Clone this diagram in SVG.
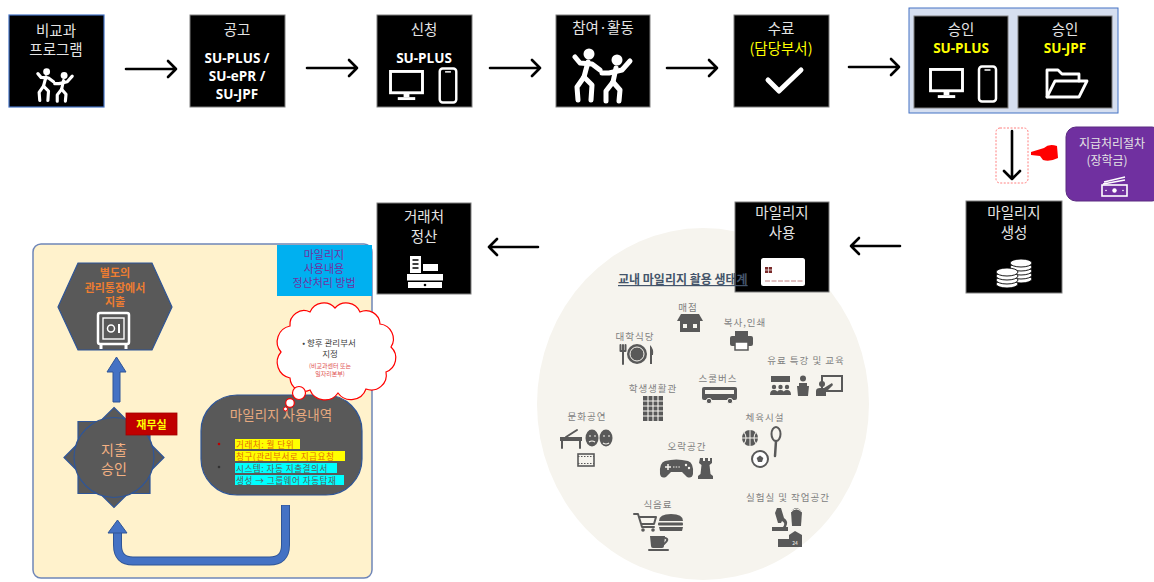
<svg xmlns="http://www.w3.org/2000/svg" width="1154" height="582" viewBox="0 0 1154 582">
<style>
text{font-family:"Noto Sans CJK KR","Liberation Sans",sans-serif;}
.box{fill:#000;stroke:#7f7f7f;stroke-width:1}
.kt{fill:#e4e4e4;font-size:14.5px;text-anchor:middle}
.en{fill:#fff;font-family:"Open Sans","Liberation Sans",sans-serif;font-weight:700;font-size:13.5px;text-anchor:middle}
.yl{fill:#ffff00}
.wl{fill:none;stroke:#fff;stroke-width:2.8;stroke-linejoin:round;stroke-linecap:round}
.conn{fill:none;stroke:#000;stroke-width:2.6;stroke-linecap:round;stroke-linejoin:round}
.ico{fill:#595959}
.ln{fill:none;stroke:#595959;stroke-width:2;stroke-linecap:round;stroke-linejoin:round}
.bg{fill:#f6f4ee}
.lab{fill:#808080;font-size:9.5px;text-anchor:middle;letter-spacing:1px}
.blue{fill:#4472c4;stroke:#2f5597;stroke-width:1}
.dk{fill:#595959;stroke:#2f5597;stroke-width:1.2}
.hl{font-size:8.6px;letter-spacing:0.5px}
</style>
<defs>
<symbol id="dancers" viewBox="0 0 64 56">
<g fill="#fff"><circle cx="17" cy="6" r="5.5"/><circle cx="45" cy="12" r="5.5"/></g>
<g fill="none" stroke="#fff" stroke-width="5" stroke-linecap="round" stroke-linejoin="round">
<path d="M16,14 L12,29"/><path d="M3,9 L8,15 L20,16 L28,22"/>
<path d="M12,29 L5,39 L6,52"/><path d="M12,29 L20,37 L19,52"/>
<path d="M44,20 L41,34"/><path d="M30,25 L37,25 L50,22 L58,13"/>
<path d="M41,34 L34,43 L34,53"/><path d="M41,34 L48,42 L47,53"/>
</g>
</symbol>
<symbol id="mon" viewBox="0 0 36 32">
<rect x="1.5" y="1.5" width="33" height="22" fill="none" stroke="#fff" stroke-width="3"/>
<rect x="15" y="23" width="6" height="5" fill="#fff"/><rect x="9" y="28" width="18" height="3" fill="#fff"/>
</symbol>
<symbol id="phone" viewBox="0 0 20 38">
<rect x="1.5" y="1.5" width="17" height="35" rx="3" fill="none" stroke="#fff" stroke-width="2.5"/>
<line x1="7" y1="5" x2="13" y2="5" stroke="#fff" stroke-width="1.5"/>
</symbol>
</defs>
<rect width="1154" height="582" fill="#fff"/>

<!-- top row: process steps -->
<g id="n-program">
<rect x="9" y="15" width="95" height="92" fill="#000" stroke="#4472c4" stroke-width="1.2"/>
<text class="kt" x="56" y="36">비교과</text><text class="kt" x="56" y="55">프로그램</text>
<use href="#dancers" x="36" y="68" width="40" height="35"/>
</g>
<g id="n-notice">
<rect class="box" x="190" y="15" width="95" height="92"/>
<text class="kt" x="237" y="35">공고</text>
<text class="en" x="237" y="63">SU-PLUS /</text><text class="en" x="237" y="81">SU-ePR /</text><text class="en" x="237" y="99">SU-JPF</text>
</g>
<g id="n-apply">
<rect class="box" x="377" y="15" width="95" height="92"/>
<text class="kt" x="424" y="35">신청</text>
<text class="en" x="424" y="63">SU-PLUS</text>
<use href="#mon" x="389" y="70" width="35" height="31"/>
<use href="#phone" x="438" y="67" width="20" height="37"/>
</g>
<g id="n-activity">
<rect class="box" x="556" y="15" width="94" height="92"/>
<text class="kt" x="603" y="33">참여·활동</text>
<use href="#dancers" x="572" y="48" width="64" height="56"/>
</g>
<g id="n-complete">
<rect class="box" x="734" y="15" width="95" height="92"/>
<text class="kt" x="781" y="34">수료</text>
<text class="kt yl" x="781" y="54" font-size="13.5">(담당부서)</text>
<path d="M768,80 L779,91 L801,70" fill="none" stroke="#fff" stroke-width="5" stroke-linecap="round" stroke-linejoin="round"/>
</g>
<g id="n-approve">
<rect x="909" y="8" width="209" height="105" fill="#d6dff0" stroke="#4472c4" stroke-width="1"/>
<rect class="box" x="914" y="16" width="94" height="92"/>
<text class="kt" x="961" y="35">승인</text>
<text class="en yl" x="961" y="53">SU-PLUS</text>
<use href="#mon" x="929" y="68" width="35" height="31"/>
<use href="#phone" x="977" y="65" width="21" height="38"/>
<rect class="box" x="1018" y="16" width="94" height="92"/>
<text class="kt" x="1065" y="35">승인</text>
<text class="en yl" x="1065" y="53">SU-JPF</text>
<path class="wl" d="M1047,97 L1047,70 L1058,70 L1062,74 L1079,74 L1079,81"/>
<path class="wl" d="M1047,97 L1055,81 L1087,81 L1079,97 Z"/>
</g>

<!-- payment procedure note -->
<g id="n-payment">
<rect x="996" y="128" width="32" height="55" rx="4" fill="none" stroke="#ff8080" stroke-width="1" stroke-dasharray="2 1.5"/>
<path d="M1031,152 L1044,148 Q1049,143 1057,146 L1058,158 Q1050,162 1043,160 L1040,156 L1031,155 Z" fill="#ff0000"/>
<rect x="1066" y="127" width="96" height="74" rx="10" fill="#7030a0" stroke="#5a2a80" stroke-width="1"/>
<text x="1112" y="148" fill="#e4e4e4" font-size="12" text-anchor="middle">지급처리절차</text>
<text x="1107" y="165" fill="#e4e4e4" font-size="12" text-anchor="middle">(장학금)</text>
<path d="M1104,182 L1125,177 M1103,184 L1125,180" stroke="#fff" stroke-width="1.3" fill="none"/>
<rect x="1102" y="185" width="25" height="11" fill="none" stroke="#fff" stroke-width="1.6"/>
<circle cx="1114.5" cy="190.5" r="2.2" fill="#fff"/>
<circle cx="1106" cy="190.5" r="0.8" fill="#fff"/><circle cx="1123" cy="190.5" r="0.8" fill="#fff"/>
</g>

<!-- ecosystem backdrop -->
<g id="n-ecosystem">
<ellipse class="bg" cx="703" cy="404" rx="166" ry="176"/>
<!-- store -->
<text class="lab" x="688" y="311">매점</text>
<path class="ico" d="M677,321 L681,314 L699,314 L703,321 Z"/>
<rect class="ico" x="680" y="321" width="20" height="11"/>
<rect x="683" y="324" width="4" height="4" fill="#f6f4ee"/><rect x="693" y="324" width="4" height="4" fill="#f6f4ee"/>
<!-- printing -->
<text class="lab" x="745" y="326">복사,인쇄</text>
<rect class="ico" x="735" y="331" width="13" height="5"/>
<rect class="ico" x="730" y="336" width="23" height="10" rx="2"/>
<rect x="735" y="342" width="13" height="8" fill="#fff" stroke="#595959" stroke-width="1.5"/>
<!-- cafeteria -->
<text class="lab" x="635" y="340">대학식당</text>
<circle class="ico" cx="637" cy="354" r="10"/>
<circle cx="637" cy="354" r="7" fill="none" stroke="#f6f4ee" stroke-width="1"/>
<path class="ln" d="M623,345 L623,364 M620.5,345 L620.5,351 M625.5,345 L625.5,351 M620.5,351 L625.5,351"/>
<path class="ico" d="M650,345 Q654,349 653,355 L652,355 L652,364 L650,364 Z"/>
<!-- paid lectures -->
<text class="lab" x="806" y="364">유료 특강 및 교육</text>
<rect class="ico" x="771" y="376" width="19" height="6"/>
<circle class="ico" cx="774" cy="387" r="2.2"/><circle class="ico" cx="780.5" cy="387" r="2.2"/><circle class="ico" cx="787" cy="387" r="2.2"/>
<path class="ico" d="M770,395 Q770,390 774,390 Q778,390 778,395 Z M776.5,395 Q776.5,390 780.5,390 Q784.5,390 784.5,395 Z M783,395 Q783,390 787,390 Q791,390 791,395 Z"/>
<circle class="ico" cx="803" cy="378.5" r="3"/>
<path class="ico" d="M799,383 L807,383 L807,386 L809,386 L808,396 L798,396 L797,386 L799,386 Z"/>
<rect x="822" y="376" width="20" height="15" fill="none" stroke="#595959" stroke-width="2"/>
<circle class="ico" cx="822" cy="384" r="3"/>
<path class="ico" d="M816,396 L816,391 Q816,388 820,388 L824,388 L832,383 L833,385 L826,392 L826,396 Z"/>
<!-- school bus -->
<text class="lab" x="718" y="382">스쿨버스</text>
<rect class="ico" x="702" y="387" width="35" height="13" rx="2"/>
<rect x="705" y="390" width="29" height="4" fill="#f6f4ee"/>
<circle class="ico" cx="709" cy="401" r="2.7" stroke="#f6f4ee" stroke-width="1"/>
<circle class="ico" cx="730" cy="401" r="2.7" stroke="#f6f4ee" stroke-width="1"/>
<!-- dormitory -->
<text class="lab" x="653" y="392">학생생활관</text>
<rect class="ico" x="643" y="396" width="20" height="25"/>
<path d="M648,396 L648,421 M653,396 L653,421 M658,396 L658,421 M643,401 L663,401 M643,406 L663,406 M643,411 L663,411 M643,416 L663,416" stroke="#f6f4ee" stroke-width="1.1"/>
<!-- culture -->
<text class="lab" x="587" y="420">문화공연</text>
<rect class="ico" x="560" y="437" width="22" height="4"/>
<path class="ln" d="M566,437 L577,430 M562,441 L562,448 M580,441 L580,448"/>
<ellipse class="ico" cx="592" cy="438" rx="6.5" ry="8.5"/><ellipse class="ico" cx="606" cy="438" rx="6.5" ry="8.5"/>
<path d="M589,436 L591,436 M594,436 L596,436 M589,442 Q592,440 595,442 M603,436 L605,436 M608,436 L610,436 M603,443 Q606,445 609,443" stroke="#f6f4ee" stroke-width="1.2" fill="none"/>
<rect x="578" y="454" width="16" height="12" fill="none" stroke="#595959" stroke-width="1.6"/>
<path d="M578,456.5 L594,456.5 M578,463.5 L594,463.5" stroke="#595959" stroke-width="1" stroke-dasharray="1.5 1.5"/>
<!-- sports -->
<text class="lab" x="765" y="421">체육시설</text>
<circle class="ico" cx="750" cy="438" r="8"/>
<path d="M742,438 L758,438 M750,430 L750,446 M744,432 Q748,438 744,444 M756,432 Q752,438 756,444" stroke="#f6f4ee" stroke-width="1" fill="none"/>
<ellipse cx="776" cy="434" rx="4.5" ry="7" fill="none" stroke="#595959" stroke-width="2"/>
<path d="M776,441 L775,456" stroke="#595959" stroke-width="2.5" stroke-linecap="round"/>
<circle cx="760" cy="459" r="8" fill="#fff" stroke="#595959" stroke-width="2"/>
<path class="ico" d="M760,455.5 L763.3,458 L762,462 L758,462 L756.7,458 Z"/>
<!-- game room -->
<text class="lab" x="687" y="450">오락공간</text>
<path class="ico" d="M665,461 Q676,458 688,461 Q694,463 693,474 Q692,479 687,477 L682,472 L671,472 L666,477 Q661,479 660,474 Q659,463 665,461 Z"/>
<path d="M665,467 L671,467 M668,464 L668,470" stroke="#f6f4ee" stroke-width="1.5"/>
<path d="M673,467 L680,467" stroke="#f6f4ee" stroke-width="1" stroke-dasharray="1.5 1.2"/>
<circle cx="686" cy="465" r="1.2" fill="#f6f4ee"/><circle cx="689" cy="468" r="1.2" fill="#f6f4ee"/>
<path class="ico" d="M700,458 L703,458 L703,461 L705,461 L705,458 L708,458 L708,461 L710,461 L710,458 L712,458 L712,463 L709.5,465 L710.5,474 L713,476 L713,479 L698,479 L698,476 L700.5,474 L701.5,465 L699,463 Z"/>
<!-- food and drink -->
<text class="lab" x="658" y="508">식음료</text>
<path class="ln" d="M634,514 L638,514 L642,527 L654,527 M639,517 L656,517 L654,524 L641,524" stroke-width="1.8"/>
<circle class="ico" cx="643" cy="530" r="1.8"/><circle class="ico" cx="653" cy="530" r="1.8"/>
<path class="ico" d="M659,521 Q659,514 671,514 Q683,514 683,521 Z"/>
<rect class="ico" x="658" y="522.5" width="25" height="3" rx="1"/>
<path class="ico" d="M659,527 L683,527 L682,531 L660,531 Z"/>
<path class="ico" d="M650,536 L665,536 L664,546 Q664,548 662,548 L653,548 Q651,548 651,546 Z"/>
<path class="ln" d="M665,538 Q670,539 664,544" stroke-width="1.6"/>
<rect class="ico" x="648" y="549" width="21" height="2" rx="1"/>
<!-- labs and workshops -->
<text class="lab" x="788" y="501">실험실 및 작업공간</text>
<path class="ico" d="M777,508 L781,508 L784,518 Q789,521 786,527 L788,527 L788,531 L772,531 L772,527 L783,527 Q786,523 782,521 L781,523 L778,523 L775,513 Z"/>
<path class="ico" d="M791,512 Q796,504 802,512 L801,526 L792,526 Z"/>
<path d="M791,512 Q796,506 802,512" fill="none" stroke="#f6f4ee" stroke-width="1"/>
<path class="ico" d="M778,547 L778,539 L789,539 L789,535 L795,531 L802,535 L802,547 Z"/>
<text x="795" y="545" fill="#f6f4ee" font-size="5" text-anchor="middle">24</text>
</g>

<!-- second row: mileage flow -->
<g id="n-create">
<rect class="box" x="966" y="201" width="96" height="92"/>
<text class="kt" x="1014" y="218">마일리지</text><text class="kt" x="1014" y="238">생성</text>
<g fill="#fff" stroke="#000" stroke-width="0.9">
<ellipse cx="1021" cy="279" rx="11" ry="4"/><ellipse cx="1021" cy="275" rx="11" ry="4"/><ellipse cx="1021" cy="271" rx="11" ry="4"/><ellipse cx="1021" cy="267" rx="11" ry="4"/><ellipse cx="1021" cy="263" rx="11" ry="4"/>
<ellipse cx="1007" cy="284" rx="11" ry="4"/><ellipse cx="1007" cy="280" rx="11" ry="4"/><ellipse cx="1007" cy="276" rx="11" ry="4"/><ellipse cx="1007" cy="272" rx="11" ry="4"/>
</g>
</g>
<g id="n-use">
<rect class="box" x="735" y="202" width="94" height="90"/>
<text class="kt" x="782" y="218">마일리지</text><text class="kt" x="782" y="238">사용</text>
<rect x="761" y="258" width="44" height="28" rx="2.5" fill="#fff"/>
<rect x="765" y="267" width="7" height="6" fill="#7a2a2a"/>
<path d="M765,270 L772,270 M768.5,267 L768.5,273" stroke="#fff" stroke-width="0.7"/>
<path d="M765,281 L803,281" stroke="#c08080" stroke-width="1" stroke-dasharray="5 1.5"/>
</g>
<text x="618" y="284" fill="#44546a" font-size="12" font-weight="700" text-decoration="underline">교내 마일리지 활용 생태계</text>
<g id="n-settle">
<rect class="box" x="377" y="203" width="94" height="91"/>
<text class="kt" x="424" y="222">거래처</text><text class="kt" x="424" y="242">정산</text>
<rect x="410" y="256" width="11" height="17" fill="#fff"/>
<path d="M412.5,260 L418.5,260 M412.5,264 L418.5,264 M412.5,268 L418.5,268" stroke="#000" stroke-width="1.6"/>
<rect x="423" y="264" width="15" height="7" fill="#fff"/>
<rect x="407" y="274" width="36" height="6.5" fill="#fff"/>
<rect x="408" y="282" width="34" height="6" fill="#fff"/>
<circle cx="425" cy="285" r="1.3" fill="#000"/>
</g>

<!-- settlement method panel -->
<g id="n-panel">
<rect x="33" y="244" width="339" height="334" rx="8" fill="#fff2cc" stroke="#6f86b8" stroke-width="1.5"/>
<rect x="277" y="245" width="95" height="51" fill="#00b0f0"/>
<text x="324" y="259" fill="#7030a0" font-size="11" text-anchor="middle">마일리지</text>
<text x="324" y="273" fill="#7030a0" font-size="11" text-anchor="middle">사용내용</text>
<text x="324" y="287" fill="#7030a0" font-size="11" text-anchor="middle">정산처리 방법</text>
</g>
<g id="n-account">
<polygon class="dk" points="58,307 78,263 152,263 172,307 152,350 78,350"/>
<g fill="#ed7d31" font-size="11" text-anchor="middle" font-weight="700">
<text x="115" y="277">별도의</text><text x="115" y="292">관리통장에서</text><text x="115" y="306">지출</text>
</g>
<rect x="98" y="313" width="31" height="31" rx="2" fill="none" stroke="#fff" stroke-width="2.5"/>
<rect x="103" y="318" width="21" height="21" fill="none" stroke="#fff" stroke-width="1.4"/>
<circle cx="111" cy="328.5" r="3.5" fill="none" stroke="#fff" stroke-width="1.5"/>
<path d="M119,324 L119,333" stroke="#fff" stroke-width="2"/>
<path d="M101,344 L101,349 M126,344 L126,349" stroke="#fff" stroke-width="3"/>
</g>
<g id="n-approval">
<polygon class="dk" points="114,407.5 128,421.5 150,421.5 150,443.5 164,457.5 150,471.5 150,493.5 128,493.5 114,507.5 100,493.5 78,493.5 78,471.5 64,457.5 78,443.5 78,421.5 100,421.5"/>
<circle class="dk" cx="114" cy="457.5" r="40"/>
<text x="114" y="455" fill="#f4b183" font-size="14" text-anchor="middle">지출</text>
<text x="114" y="474" fill="#f4b183" font-size="14" text-anchor="middle">승인</text>
<rect x="126" y="413" width="51" height="22" fill="#c00000" stroke="#a00000" stroke-width="0.8"/>
<text x="151.5" y="428.5" fill="#ffff00" font-size="11" font-weight="700" text-anchor="middle">재무실</text>
</g>
<g id="n-history">
<rect class="dk" x="201" y="395" width="161" height="100" rx="36"/>
<text x="281" y="420" fill="#e7a97f" font-size="13.5" text-anchor="middle">마일리지 사용내역</text>
<circle cx="219" cy="444" r="1.3" fill="#c00000"/>
<circle cx="219" cy="467" r="1.3" fill="#333"/>
<rect x="235" y="439" width="65" height="10" fill="#ffff00"/>
<rect x="235" y="451" width="110" height="10" fill="#ffff00"/>
<rect x="235" y="463" width="102" height="10" fill="#00ffff"/>
<rect x="235" y="475" width="109" height="10" fill="#00ffff"/>
<text class="hl" x="236" y="447.5" fill="#e46c0a">거래처: 월 단위</text>
<text class="hl" x="236" y="459.5" fill="#e46c0a">청구(관리부서로 지급요청</text>
<text class="hl" x="236" y="471.5" fill="#595959">시스템: 자동 지출결의서</text>
<text class="hl" x="236" y="483.5" fill="#595959">생성 → 그룹웨어 자동탑재</text>
</g>
<g id="n-note">
<path d="M290,378 A16,16 0 0 1 281,352 A16,16 0 0 1 290,326 A14,14 0 0 1 310,312 A15,15 0 0 1 335,308 A15,15 0 0 1 360,312 A14,14 0 0 1 380,324 A15,15 0 0 1 391,347 A15,15 0 0 1 386,372 A15,15 0 0 1 366,389 A16,16 0 0 1 338,393 A16,16 0 0 1 310,390 A14,14 0 0 1 290,378 Z" fill="#fff" stroke="#ff0000" stroke-width="1.2"/>
<circle cx="299" cy="393" r="6.5" fill="#fff" stroke="#ff0000" stroke-width="1.2"/>
<circle cx="290" cy="403" r="4.3" fill="#fff" stroke="#ff0000" stroke-width="1.2"/>
<circle cx="285.5" cy="409" r="2" fill="#fff" stroke="#ff0000" stroke-width="1"/>
<text x="329" y="346" fill="#404040" font-size="8.5" text-anchor="middle">• 향후 관리부서</text>
<text x="330" y="357" fill="#404040" font-size="8.5" text-anchor="middle">지정</text>
<text x="330" y="368" fill="#e05050" font-size="6" text-anchor="middle">(비교과센터 또는</text>
<text x="330" y="376" fill="#e05050" font-size="6" text-anchor="middle">일자리본부)</text>
</g>

<!-- connectors -->
<g id="connectors">
<path class="conn" d="M126,69 L176,69 M168,61 L176,69 L168,77"/>
<path class="conn" d="M307,68 L357,68 M349,60 L357,68 L349,76"/>
<path class="conn" d="M490,68 L540,68 M532,60 L540,68 L532,76"/>
<path class="conn" d="M667,68 L717,68 M709,60 L717,68 L709,76"/>
<path class="conn" d="M849,67 L899,67 M891,59 L899,67 L891,75"/>
<path class="conn" d="M1012,131 L1012,179 M1004,171 L1012,179 L1020,171"/>
<path class="conn" d="M900,246 L851,246 M859,238 L851,246 L859,254"/>
<path class="conn" d="M538,247 L489,247 M497,239 L489,247 L497,255"/>
<path d="M113,402 L113,372 L107,372 L116.5,357 L126,372 L120,372 L120,402 Z" class="blue"/>
<path d="M285.5,505 L285.5,545 Q285.5,561 269.5,561 L133,561 Q117.5,561 117.5,545 L117.5,532" fill="none" stroke="#2f5597" stroke-width="9"/>
<path d="M285.5,505.5 L285.5,545 Q285.5,561 269.5,561 L133,561 Q117.5,561 117.5,545 L117.5,531" fill="none" stroke="#4472c4" stroke-width="7"/>
<path d="M108,533 L117.5,520 L127,533 Z" class="blue"/>
</g>
</svg>
